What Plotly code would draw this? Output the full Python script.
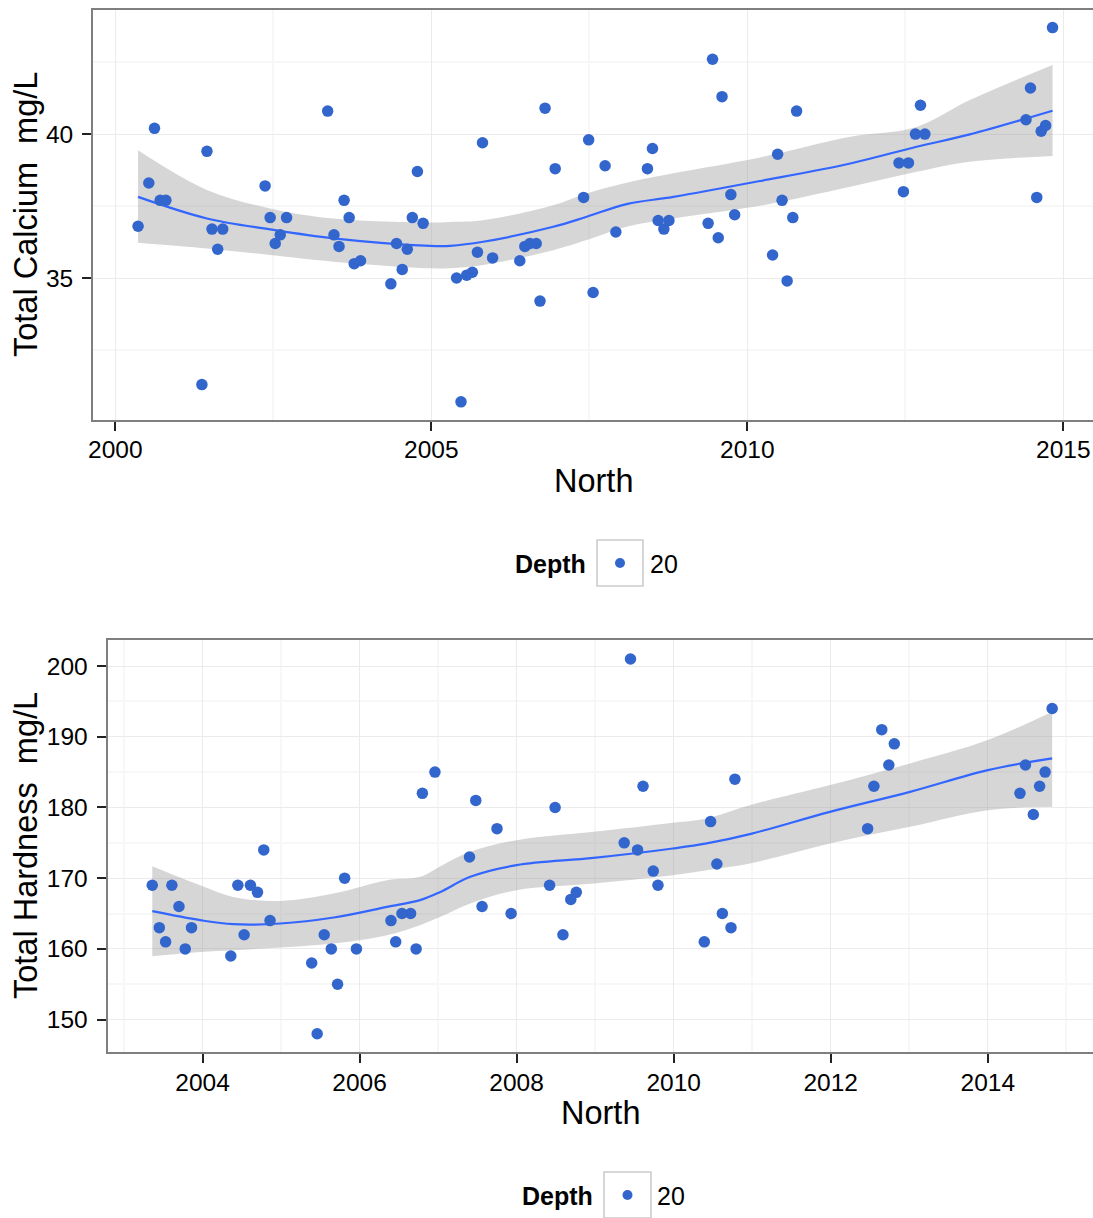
import plotly.graph_objects as go

# ---------------- data ----------------
calc_year = [2000.36, 2000.53, 2000.62, 2000.71, 2000.80, 2001.37, 2001.45, 2001.53, 2001.62, 2001.70,
             2002.37, 2002.45, 2002.53, 2002.61, 2002.71, 2003.36, 2003.46, 2003.54, 2003.62, 2003.70,
             2003.78, 2003.88, 2004.36, 2004.45, 2004.54, 2004.62, 2004.70, 2004.78, 2004.87, 2005.40,
             2005.47, 2005.56, 2005.65, 2005.73, 2005.81, 2005.97, 2006.40, 2006.48, 2006.56, 2006.66,
             2006.72, 2006.80, 2006.96, 2007.41, 2007.49, 2007.56, 2007.75, 2007.92, 2008.42, 2008.50,
             2008.59, 2008.68, 2008.76, 2009.38, 2009.45, 2009.54, 2009.60, 2009.74, 2009.80, 2010.40,
             2010.48, 2010.55, 2010.63, 2010.72, 2010.78, 2012.40, 2012.47, 2012.55, 2012.66, 2012.74,
             2012.81, 2014.41, 2014.48, 2014.58, 2014.65, 2014.72, 2014.83]
calc_value = [36.8, 38.3, 40.2, 37.7, 37.7, 31.3, 39.4, 36.7, 36.0, 36.7,
              38.2, 37.1, 36.2, 36.5, 37.1, 40.8, 36.5, 36.1, 37.7, 37.1,
              35.5, 35.6, 34.8, 36.2, 35.3, 36.0, 37.1, 38.7, 36.9, 35.0,
              30.7, 35.1, 35.2, 35.9, 39.7, 35.7, 35.6, 36.1, 36.2, 36.2,
              34.2, 40.9, 38.8, 37.8, 39.8, 34.5, 38.9, 36.6, 38.8, 39.5,
              37.0, 36.7, 37.0, 36.9, 42.6, 36.4, 41.3, 37.9, 37.2, 35.8,
              39.3, 37.7, 34.9, 37.1, 40.8, 39.0, 38.0, 39.0, 40.0, 41.0,
              40.0, 40.5, 41.6, 37.8, 40.1, 40.3, 43.7]

calc_smooth_year = [2000.36, 2001.45, 2002.45, 2003.45, 2004.98, 2005.30, 2005.82, 2006.93,
                    2007.46, 2008.09, 2008.83, 2010.20, 2011.63, 2012.68, 2013.52, 2014.83]
calc_fit = [37.82, 37.07, 36.69, 36.38, 36.12, 36.12, 36.26, 36.78,
            37.13, 37.57, 37.82, 38.37, 38.98, 39.56, 39.99, 40.81]
calc_upper = [39.44, 38.06, 37.42, 37.07, 36.93, 36.95, 37.01, 37.53,
              37.94, 38.31, 38.64, 39.19, 39.91, 40.25, 41.18, 42.40]
calc_lower = [36.23, 36.03, 35.80, 35.57, 35.34, 35.34, 35.45, 35.97,
              36.32, 36.78, 37.07, 37.51, 38.17, 38.69, 39.04, 39.24]

hard_year = [2003.36, 2003.45, 2003.53, 2003.61, 2003.70, 2003.78, 2003.86, 2004.36, 2004.45, 2004.53,
             2004.61, 2004.70, 2004.78, 2004.86, 2005.39, 2005.46, 2005.55, 2005.64, 2005.72, 2005.81,
             2005.96, 2006.40, 2006.46, 2006.54, 2006.65, 2006.72, 2006.80, 2006.96, 2007.40, 2007.48,
             2007.56, 2007.75, 2007.93, 2008.42, 2008.49, 2008.59, 2008.69, 2008.76, 2009.37, 2009.45,
             2009.54, 2009.61, 2009.74, 2009.80, 2010.39, 2010.47, 2010.55, 2010.62, 2010.73, 2010.78,
             2012.47, 2012.55, 2012.65, 2012.74, 2012.81, 2014.41, 2014.48, 2014.58, 2014.66, 2014.73,
             2014.82]
hard_value = [169, 163, 161, 169, 166, 160, 163, 159, 169, 162,
              169, 168, 174, 164, 158, 148, 162, 160, 155, 170,
              160, 164, 161, 165, 165, 160, 182, 185, 173, 181,
              166, 177, 165, 169, 180, 162, 167, 168, 175, 201,
              174, 183, 171, 169, 161, 178, 172, 165, 163, 184,
              177, 183, 191, 186, 189, 182, 186, 179, 183, 185,
              194]

hard_smooth_year = [2003.36, 2003.97, 2004.39, 2004.99, 2005.67, 2006.35, 2006.77, 2007.03, 2007.41,
                    2008.00, 2008.98, 2009.99, 2010.42, 2010.97, 2011.99, 2013.01, 2014.00, 2014.82]
hard_fit = [165.33, 164.06, 163.49, 163.59, 164.44, 165.94, 166.89, 168.06, 170.19,
            171.84, 172.87, 174.20, 174.91, 176.23, 179.38, 182.21, 185.28, 186.94]
hard_upper = [171.70, 169.00, 167.35, 166.79, 167.84, 169.72, 170.19, 171.70, 173.72,
              175.38, 176.55, 177.83, 178.45, 180.33, 183.16, 186.23, 189.53, 193.53]
hard_lower = [158.96, 159.57, 159.81, 160.19, 160.76, 161.94, 163.35, 164.53, 166.42,
              168.30, 169.25, 170.43, 171.13, 172.08, 174.91, 177.26, 179.62, 180.09]

x_title = "North"
y_titles = ["Total Calcium  mg/L", "Total Hardness  mg/L"]
legend_title = "Depth"
legend_label = "20"

# ---------------- styling ----------------
W, H = 1093, 1218
FONT = "Liberation Sans, Arial, sans-serif"
PT_COLOR = "#3366CC"
LINE_COLOR = "#3366FF"
RIBBON = "rgba(153,153,153,0.4)"


def px_x(p):
    return p / W


def px_y(p):
    return 1 - p / H


fig = go.Figure()


def add_panel(xa, ya, sx, fit, lo, hi, px, py):
    fig.add_trace(go.Scatter(x=sx, y=lo, mode="lines", line=dict(width=0, shape="spline"),
                             xaxis=xa, yaxis=ya, showlegend=False, hoverinfo="skip"))
    fig.add_trace(go.Scatter(x=sx, y=hi, mode="lines", line=dict(width=0, shape="spline"),
                             fill="tonexty", fillcolor=RIBBON,
                             xaxis=xa, yaxis=ya, showlegend=False, hoverinfo="skip"))
    fig.add_trace(go.Scatter(x=sx, y=fit, mode="lines",
                             line=dict(color=LINE_COLOR, width=2.2, shape="spline"),
                             xaxis=xa, yaxis=ya, showlegend=False))
    fig.add_trace(go.Scatter(x=px, y=py, mode="markers",
                             marker=dict(color=PT_COLOR, size=11.5, line=dict(width=0)),
                             xaxis=xa, yaxis=ya, showlegend=False))


add_panel("x", "y", calc_smooth_year, calc_fit, calc_lower, calc_upper, calc_year, calc_value)
add_panel("x2", "y2", hard_smooth_year, hard_fit, hard_lower, hard_upper, hard_year, hard_value)

axis_common = dict(
    automargin=False,
    ticks="outside", ticklen=9, tickwidth=2, tickcolor="#222222",
    tickfont=dict(family=FONT, size=24.5, color="#000000"),
    showline=True, linecolor="#7F7F7F", linewidth=1.7,
    showgrid=True, gridcolor="#EBEBEB", gridwidth=1.2,
    zeroline=False,
)
minor_style = dict(showgrid=True, gridcolor="#F7F7F7", gridwidth=1.5, ticks="")

# panel geometry in pixels
P1 = dict(l=93, r=1093, t=10, b=420)
P2 = dict(l=107.5, r=1093, t=640, b=1052)

fig.update_layout(
    width=W, height=H,
    margin=dict(l=0, r=0, t=0, b=0, autoexpand=False),
    paper_bgcolor="white", plot_bgcolor="white",
    font=dict(family=FONT, color="#000000"),
    xaxis=dict(domain=[px_x(P1["l"]), 1], anchor="y", range=[1999.647, 2015.47],
               tick0=2000, dtick=5, mirror=True,
               minor=dict(tick0=2000, dtick=2.5, **minor_style),
               ticklabelstandoff=-2, **axis_common),
    yaxis=dict(domain=[px_y(P1["b"]), px_y(P1["t"])], anchor="x", range=[30.07, 44.31],
               tick0=0, dtick=5, mirror=False,
               minor=dict(tick0=0, dtick=2.5, **minor_style),
               ticklabelstandoff=4, **axis_common),
    xaxis2=dict(domain=[px_x(P2["l"]), 1], anchor="y2", range=[2002.79, 2015.34],
                tick0=2004, dtick=2, mirror=True,
                minor=dict(tick0=2003, dtick=1, **minor_style),
                ticklabelstandoff=-1, **axis_common),
    yaxis2=dict(domain=[px_y(P2["b"]), px_y(P2["t"])], anchor="x2", range=[145.42, 203.68],
                tick0=0, dtick=10, mirror=False,
                minor=dict(tick0=0, dtick=5, **minor_style),
                ticklabelstandoff=4, **axis_common),
)

annotations = []
shapes = []
for P, ytitle, leg in ((P1, y_titles[0], dict(title_r=588, box=(597, 643, 540, 586), label_l=648)),
                       (P2, y_titles[1], dict(title_r=595, box=(604, 651, 1172, 1218), label_l=655))):
    cx = (P["l"] + P["r"]) / 2
    annotations.append(dict(text=x_title, x=px_x(cx), y=px_y(P["b"] + 61), xref="paper", yref="paper",
                            showarrow=False, xanchor="center", yanchor="middle",
                            font=dict(family=FONT, size=32.5, color="#000000")))
    annotations.append(dict(text=ytitle, x=px_x(26), y=px_y((P["t"] + P["b"]) / 2), xref="paper", yref="paper",
                            showarrow=False, xanchor="center", yanchor="middle", textangle=-90,
                            font=dict(family=FONT, size=32.5, color="#000000")))
    bx0, bx1, by0, by1 = leg["box"]
    cy = P["b"] + 144
    annotations.append(dict(text="<b>%s</b>" % legend_title, x=px_x(leg["title_r"]), y=px_y(cy),
                            xref="paper", yref="paper", showarrow=False, xanchor="right", yanchor="middle",
                            font=dict(family=FONT, size=25, color="#000000")))
    annotations.append(dict(text=legend_label, x=px_x(leg["label_l"]), y=px_y(cy),
                            xref="paper", yref="paper", showarrow=False, xanchor="left", yanchor="middle",
                            font=dict(family=FONT, size=25, color="#000000")))
    shapes.append(dict(type="rect", xref="paper", yref="paper",
                       x0=px_x(bx0), x1=px_x(bx1), y0=px_y(by1), y1=px_y(by0),
                       line=dict(color="#CCCCCC", width=1.6), fillcolor="white"))
    dcx, dcy = (bx0 + bx1) / 2, cy - 1
    shapes.append(dict(type="circle", xref="paper", yref="paper",
                       x0=px_x(dcx - 5), x1=px_x(dcx + 5), y0=px_y(dcy + 5), y1=px_y(dcy - 5),
                       line=dict(width=0), fillcolor=PT_COLOR))

fig.update_layout(annotations=annotations, shapes=shapes)

fig.write_html("out.html")
